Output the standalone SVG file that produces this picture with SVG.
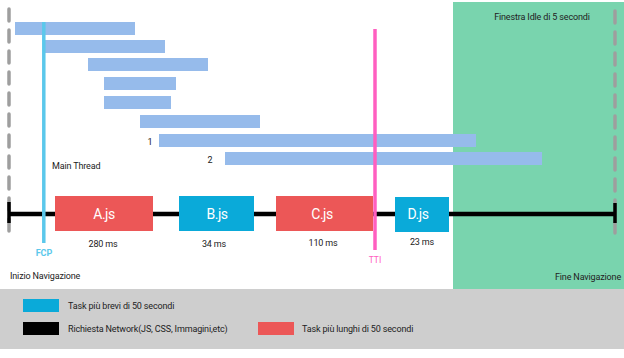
<svg xmlns="http://www.w3.org/2000/svg" width="624" height="358" viewBox="0 0 624 358">
<style>
.t{font-family:Roboto,"Liberation Sans",sans-serif;font-size:9px;fill:#222;letter-spacing:-0.15px}
.bar{fill:#96bbeb}
.dash{stroke:#9e9e9e;stroke-width:3.5;stroke-dasharray:12 9;stroke-linecap:round;fill:none}
.js{font-family:Roboto,"Liberation Sans",sans-serif;font-size:14px;fill:#fff;text-anchor:middle;letter-spacing:-0.5px}
.red{fill:#ec5757}
.blue{fill:#0aaad9}
</style>
<rect width="624" height="358" fill="#fff"/>
<g id="idle-window">
<rect x="453" y="2" width="171" height="287" fill="#79d4ae"/>
<text class="t" x="542" y="20" text-anchor="middle">Finestra Idle di 5 secondi</text>
</g>
<g id="legend">
<rect x="0" y="289" width="624" height="60" fill="#cecece"/>
<rect x="23" y="299" width="36" height="13" class="blue"/>
<text class="t" x="68" y="309">Task più brevi di 50 secondi</text>
<rect x="23" y="322" width="36" height="13" fill="#000"/>
<text class="t" x="68" y="332">Richiesta Network(JS, CSS, Immagini,etc)</text>
<rect x="258" y="322" width="36" height="13" class="red"/>
<text class="t" x="302" y="332">Task più lunghi di 50 secondi</text>
</g>
<g id="start-line">
<line x1="9" y1="9" x2="9" y2="240" class="dash"/>
<text class="t" x="10" y="279">Inizio Navigazione</text>
</g>
<g id="end-line">
<line x1="615" y1="11" x2="615" y2="240" class="dash"/>
<text class="t" x="621" y="280" text-anchor="end">Fine Navigazione</text>
</g>
<g id="tasks">
<rect class="bar" x="15" y="22" width="120" height="13"/>
<rect class="bar" x="45" y="40" width="120" height="13"/>
<rect class="bar" x="88" y="58" width="120" height="13"/>
<rect class="bar" x="104" y="77" width="72" height="13"/>
<rect class="bar" x="104" y="96" width="67" height="13"/>
<rect class="bar" x="140" y="115" width="120" height="13"/>
<rect class="bar" x="159" y="134" width="317" height="13"/>
<rect class="bar" x="225" y="152" width="317" height="13"/>
<text class="t" x="150" y="145" text-anchor="middle">1</text>
<text class="t" x="210" y="163" text-anchor="middle">2</text>
<text class="t" x="52" y="169">Main Thread</text>
</g>
<g id="connectors">
<line x1="8" y1="214" x2="616" y2="214" stroke="#000" stroke-width="4.5"/>
<line x1="9" y1="202" x2="9" y2="223" stroke="#000" stroke-width="3.5"/>
<line x1="615" y1="203" x2="615" y2="223" stroke="#000" stroke-width="3.5"/>
</g>
<g id="fcp">
<line x1="43.8" y1="22" x2="43.8" y2="243" stroke="#5bc8eb" stroke-width="3.5"/>
<text x="44" y="256" text-anchor="middle" font-family="Roboto,'Liberation Sans',sans-serif" font-size="9" font-weight="bold" fill="#5bc8eb">FCP</text>
</g>
<g id="a-js">
<rect class="red" x="55" y="196" width="98" height="35"/>
<text class="js" x="104" y="219">A.js</text>
<text class="t" x="103" y="247" text-anchor="middle">280 ms</text>
</g>
<g id="b-js">
<rect class="blue" x="179" y="196" width="75" height="35"/>
<text class="js" x="217" y="219">B.js</text>
<text class="t" x="214" y="247" text-anchor="middle">34 ms</text>
</g>
<g id="c-js">
<rect class="red" x="276" y="196" width="97" height="35"/>
<text class="js" x="322" y="219">C.js</text>
<text class="t" x="323" y="246" text-anchor="middle">110 ms</text>
</g>
<g id="d-js">
<rect class="blue" x="395" y="197" width="54" height="35"/>
<text class="js" x="418" y="219">D.js</text>
<text class="t" x="422" y="245" text-anchor="middle">23 ms</text>
</g>
<g id="tti">
<line x1="375" y1="29" x2="375" y2="250" stroke="#ff5fc0" stroke-width="3.5"/>
<text x="375" y="263" text-anchor="middle" font-family="Roboto,'Liberation Sans',sans-serif" font-size="8.5" fill="#ff5fc0">TTI</text>
</g>
</svg>
